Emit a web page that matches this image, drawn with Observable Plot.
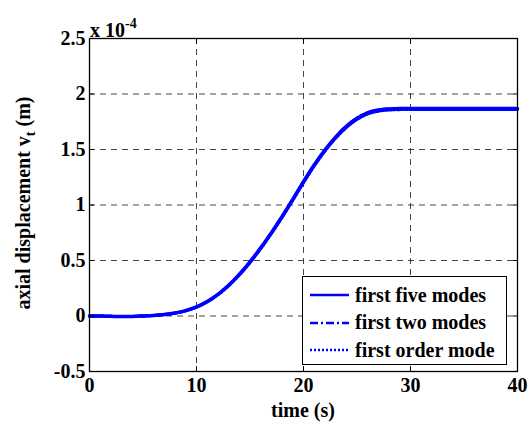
<!DOCTYPE html>
<html>
<head>
<meta charset="utf-8">
<script src="https://cdn.jsdelivr.net/npm/d3@7"></script>
<script src="https://cdn.jsdelivr.net/npm/@observablehq/plot@0.6"></script>
<style>
  body { margin: 0; background: #fff; }
  #wrap { position: relative; width: 529px; height: 424px; font-family: "Liberation Serif", "Times New Roman", serif; font-weight: bold; color: #000; }
  #wrap > svg { position: absolute; left: 0; top: 0; }
  .ov { position: absolute; white-space: nowrap; }
  #ylab { left: 25px; top: 203px; font-size: 20px; transform: translate(-50%, -50%) rotate(-90deg); }
  #ylab sub { font-size: 14px; vertical-align: -5px; }
  #xlab { left: 303px; top: 410px; font-size: 20px; transform: translate(-50%, -50%); }
  #exp { left: 90px; top: 14px; font-size: 20px; line-height: 20px; }
  #exp sup { font-size: 14px; vertical-align: 9px; }
  #legend { left: 302px; top: 276px; width: 203px; height: 87px; border: 1px solid #000; background: #fff; font-size: 20px; }
  .row { position: absolute; left: 0; height: 24px; display: flex; align-items: center; }
  #legend svg { position: static; display: block; margin-left: 7px; margin-right: 6px; }
</style>
</head>
<body>
<div id="wrap"></div>
<script>
// time (s)
const time = [0, 1, 2, 3, 4, 5, 6, 7, 8, 9, 10, 11, 12, 13, 14, 15, 16, 17, 18, 19, 20, 21, 22, 23, 24, 25, 26, 27, 28, 29, 30, 32, 34, 36, 38, 40];
// axial displacement (x 10^-4 m)
const fiveModes = [0, 0, -0.003, -0.005, -0.004, 0, 0.005, 0.013, 0.027, 0.049, 0.082, 0.13, 0.195, 0.277, 0.375, 0.488, 0.614, 0.751, 0.896, 1.051, 1.211, 1.361, 1.495, 1.612, 1.708, 1.781, 1.831, 1.856, 1.866, 1.87, 1.87, 1.87, 1.87, 1.87, 1.87, 1.87];
const twoModes = [0, 0, -0.003, -0.005, -0.004, 0, 0.005, 0.013, 0.027, 0.049, 0.082, 0.13, 0.195, 0.277, 0.375, 0.488, 0.614, 0.751, 0.896, 1.051, 1.211, 1.361, 1.495, 1.612, 1.708, 1.781, 1.831, 1.856, 1.866, 1.87, 1.87, 1.87, 1.87, 1.87, 1.87, 1.87];
const firstMode = [0, 0, -0.003, -0.005, -0.004, 0, 0.005, 0.012, 0.026, 0.047, 0.079, 0.126, 0.19, 0.271, 0.368, 0.48, 0.605, 0.742, 0.887, 1.042, 1.2, 1.35, 1.484, 1.601, 1.697, 1.77, 1.82, 1.845, 1.855, 1.859, 1.86, 1.86, 1.86, 1.86, 1.86, 1.86];
const seriesNames = ["first five modes", "first two modes", "first order mode"];
const seriesDash = [null, "8,3,2,3", "2,2"];
const xTicks = [0, 10, 20, 30, 40];
const yTicks = [-0.5, 0, 0.5, 1, 1.5, 2, 2.5];
const yTickLabels = ["-0.5", "0", "0.5", "1", "1.5", "2", "2.5"];

const allSeries = [fiveModes, twoModes, firstMode];
const rows = (vals) => time.map((t, i) => ({t, v: vals[i]}));

const lineMarks = allSeries.map((vals, k) =>
  Plot.line(rows(vals), {x: "t", y: "v", stroke: "#0000ff", strokeWidth: k === 0 ? 3.5 : 3, strokeDasharray: seriesDash[k] || undefined, curve: "monotone-x"})
);

const chart = Plot.plot({
  width: 529,
  height: 424,
  marginLeft: 89,
  marginRight: 12,
  marginTop: 38,
  marginBottom: 53,
  style: {fontFamily: '"Liberation Serif", "Times New Roman", serif', fontSize: "20px", fontWeight: "bold", color: "#000", background: "transparent"},
  x: {domain: [0, 40]},
  y: {domain: [-0.5, 2.5]},
  marks: [
    Plot.gridX(xTicks, {stroke: "#333", strokeOpacity: 0.9, strokeDasharray: "6,5"}),
    Plot.gridY(yTicks, {stroke: "#333", strokeOpacity: 0.9, strokeDasharray: "6,5"}),
    ...lineMarks,
    Plot.frame({stroke: "#000", strokeWidth: 1.3}),
    Plot.axisX(xTicks, {anchor: "bottom", tickSize: 0, tickPadding: 6, label: null, fontSize: 20, fontWeight: "bold"}),
    Plot.axisX(xTicks, {anchor: "bottom", tickSize: -5, tickFormat: () => "", label: null}),
    Plot.axisX(xTicks, {anchor: "top", tickSize: -5, tickFormat: () => "", label: null}),
    Plot.axisY(yTicks, {anchor: "left", tickSize: 0, tickPadding: 4, label: null, tickFormat: (d) => yTickLabels[yTicks.indexOf(d)], fontSize: 20, fontWeight: "bold"}),
    Plot.axisY(yTicks, {anchor: "left", tickSize: -5, tickFormat: () => "", label: null}),
    Plot.axisY(yTicks, {anchor: "right", tickSize: -5, tickFormat: () => "", label: null})
  ]
});

const wrap = document.getElementById("wrap");
wrap.appendChild(chart);

const add = (id, html) => { const d = document.createElement("div"); d.className = "ov"; d.id = id; d.innerHTML = html; wrap.appendChild(d); return d; };
add("ylab", "axial displacement v<sub>t</sub> (m)");
add("xlab", "time (s)");
add("exp", "x 10<sup>-4</sup>");
const legend = add("legend", "");
seriesNames.forEach((name, k) => {
  const r = document.createElement("div");
  r.className = "row";
  r.style.top = (6 + k * 27.5) + "px";
  r.innerHTML = `<svg width="39" height="6"><line x1="0" y1="3" x2="39" y2="3" stroke="#0000ff" stroke-width="2.5" ${seriesDash[k] ? `stroke-dasharray="${seriesDash[k]}"` : ""}/></svg><span>${name}</span>`;
  legend.appendChild(r);
});
</script>
</body>
</html>
